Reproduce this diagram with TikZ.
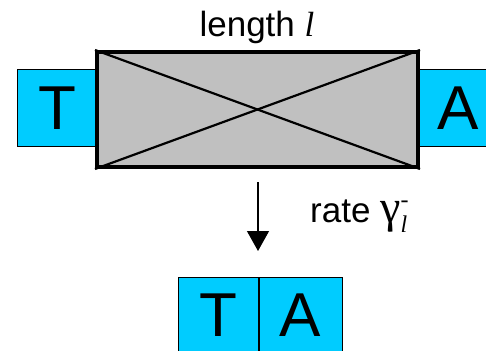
\documentclass[tikz,border=0pt]{standalone}
\usepackage{fontspec}
\setmainfont{Liberation Sans}
\newfontfamily\timesfam{Liberation Serif}
\usetikzlibrary{arrows.meta}
\definecolor{basecyan}{HTML}{00CCFF}
\definecolor{blockgray}{HTML}{C0C0C0}
\begin{document}
\begin{tikzpicture}[x=1pt,y=-1pt,
  base/.style={draw=black,line width=1pt,fill=basecyan,inner sep=0pt,
    minimum width=80pt,minimum height=76pt,
    font=\fontsize{62}{62}\selectfont},
  label/.style={inner sep=0pt,font=\fontsize{35}{35}\selectfont},
  cross/.style={line width=2.2pt}]
\useasboundingbox (0,0) rectangle (486,350);
\clip (0,0) rectangle (486,350);
% bases on either side of the lesion
\node[base] (lt) at (57,108) {T};
\node[base] (ra) at (458,108) {A};
% the crossed-out stretch of given length
\node[draw=black,line width=4pt,fill=blockgray,inner sep=0pt,
  minimum width=321pt,minimum height=115pt] (blk) at (257.5,109.5) {};
\draw[cross] (blk.north west) -- (blk.south east);
\draw[cross] (blk.south west) -- (blk.north east);
\node[label,anchor=base] (len) at (257,37) {length {\timesfam\itshape l}};
% deletion step
\coordinate (arrtop) at (258,182);
\coordinate (arrbot) at (258,251);
\draw[line width=1.2pt,-{Triangle[width=22pt,length=20pt]}] (arrtop) -- (arrbot);
\node[label,anchor=base west] (rate) at (310,222)
  {rate {\fontsize{46}{46}\selectfont\timesfam γ}\rlap{\raisebox{-0.3em}{\fontsize{24}{24}\selectfont\timesfam\itshape l}}\raisebox{0.42em}{\fontsize{24}{24}\selectfont\timesfam -}};
% joined pair after the deletion
\node[base] (bt) at (218,315.5) {T};
\node[base,anchor=west,minimum width=83pt] (ba) at (bt.east) {A};
\end{tikzpicture}
\end{document}
